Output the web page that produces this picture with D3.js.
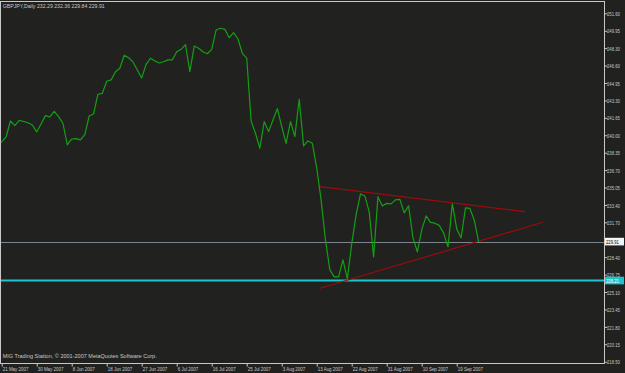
<!DOCTYPE html>
<html><head><meta charset="utf-8">
<script src="https://cdn.jsdelivr.net/npm/d3@7/dist/d3.min.js"></script>
<style>body{margin:0;background:#21221f;overflow:hidden}svg{display:block}</style>
</head><body>
<svg id="c" width="625" height="373"></svg>
<script>
// ---------- data ----------
const titleText = "GBPJPY,Daily  232.29 232.36 229.84 229.91";
const copyrightText = "MIG Trading Station, \u00a9 2001-2007 MetaQuotes Software Corp.";
const closes = [
  239.38, 239.85, 241.37, 240.93, 241.42, 241.32, 241.20, 240.99, 240.33, 241.09,
  241.88, 241.75, 242.29, 241.78, 241.13, 239.09, 239.66, 239.69, 239.57, 240.07,
  241.85, 242.04, 243.91, 244.00, 245.14, 245.27, 246.05, 246.38, 247.61, 247.38,
  246.98, 246.22, 245.46, 246.74, 247.33, 247.07, 246.88, 247.00, 247.17, 247.17,
  247.95, 248.18, 248.62, 246.05, 248.49, 248.28, 247.95, 247.76, 248.18, 250.01,
  250.18, 250.08, 249.28, 249.76, 249.16, 247.80, 247.35, 241.37, 240.20, 238.78,
  241.31, 240.36, 241.47, 242.54, 240.83, 239.25, 241.31, 239.88, 243.43, 239.00,
  239.47, 239.25, 236.91, 233.87, 230.07, 227.22, 226.56, 226.56, 228.17, 226.37,
  229.69, 232.45, 234.44, 234.25, 232.73, 228.46, 234.18, 233.30, 233.54, 233.49,
  233.87, 233.92, 232.64, 233.30, 230.26, 228.93, 231.02, 232.35, 231.73, 231.66,
  231.45, 230.74, 229.41, 233.49, 231.12, 230.26, 233.11, 233.06, 231.97, 229.91
];
const dateLabels = ["21 May 2007","30 May 2007","8 Jun 2007","18 Jun 2007","27 Jun 2007",
  "6 Jul 2007","16 Jul 2007","25 Jul 2007","3 Aug 2007","13 Aug 2007","22 Aug 2007",
  "31 Aug 2007","10 Sep 2007","19 Sep 2007"];
const barsPerDateLabel = 8;
const priceLabels = ["251.60","249.95","248.30","246.60","244.95","243.30","241.65",
  "240.00","238.35","236.70","235.05","233.40","231.70","230.05","228.40","226.75",
  "225.10","223.45","221.80","220.15","218.50"];
const priceMax = 251.60, priceMin = 218.50;
const lastPrice = 229.91;
const supportLevel = 226.21;
const upperTrend = [[72.75, 235.13], [119.6, 232.76]];
const lowerTrend = [[72.75, 225.48], [123.66, 231.75]];

// ---------- layout ----------
const svg = d3.select("#c");
const plotL = 0.5, plotR = 604.5, plotT = 1.5, plotB = 363.5;
const x = d3.scaleLinear().domain([0, closes.length - 1]).range([1.7, 478.6]);
const y = d3.scaleLinear().domain([priceMin, priceMax]).range([361.7, 13.3]);
const fg = "#c8c8c8";
const font = "Liberation Sans, Arial, sans-serif";

svg.append("rect").attr("width", 625).attr("height", 373).attr("fill", "#21221f");

svg.append("clipPath").attr("id", "clip").append("rect")
  .attr("x", plotL).attr("y", plotT).attr("width", plotR - plotL).attr("height", plotB - plotT);
const plot = svg.append("g").attr("clip-path", "url(#clip)");

// horizontal levels
plot.append("line").attr("x1", plotL).attr("x2", plotR)
  .attr("y1", Math.round(y(lastPrice)) + 0.5).attr("y2", Math.round(y(lastPrice)) + 0.5)
  .attr("stroke", "#7b8590").attr("stroke-width", 1);
plot.append("line").attr("x1", plotL).attr("x2", plotR)
  .attr("y1", y(supportLevel)).attr("y2", y(supportLevel))
  .attr("stroke", "#19c6cf").attr("stroke-width", 2);

// trendlines
[upperTrend, lowerTrend].forEach(t => {
  plot.append("line")
    .attr("x1", x(t[0][0])).attr("y1", y(t[0][1]))
    .attr("x2", x(t[1][0])).attr("y2", y(t[1][1]))
    .attr("stroke", "#9a0c0c").attr("stroke-width", 1.2);
});

// price line
plot.append("path").datum(closes)
  .attr("fill", "none").attr("stroke", "#12a012").attr("stroke-width", 1.2)
  .attr("stroke-linejoin", "round")
  .attr("d", d3.line().x((d, i) => x(i)).y(d => y(d)));
// continue a bit off the left edge
plot.append("line").attr("x1", x(0) - 4).attr("y1", y(closes[0]) + 2)
  .attr("x2", x(0)).attr("y2", y(closes[0]))
  .attr("stroke", "#12a012").attr("stroke-width", 1.2);

// frame
svg.append("rect").attr("x", plotL).attr("y", plotT)
  .attr("width", plotR - plotL).attr("height", plotB - plotT)
  .attr("fill", "none").attr("stroke", fg).attr("stroke-width", 1);

// right axis
const priceStep = (priceMax - priceMin) / (priceLabels.length - 1);
const priceVals = priceLabels.map((d, i) => priceMax - i * priceStep);
const yAxis = d3.axisRight(y).tickValues(priceVals)
  .tickFormat((d, i) => priceLabels[i]).tickSize(3).tickSizeOuter(0);
const ya = svg.append("g").attr("transform", `translate(${plotR},0)`).call(yAxis);
ya.select(".domain").remove();
ya.selectAll("line").attr("stroke", fg);
ya.selectAll("text").attr("fill", fg).attr("font-family", font).attr("font-size", 6.2)
  .attr("x", 0).attr("dy", "0.35em")
  .attr("transform", "translate(2.5,0) scale(0.68,1)");

// bottom axis
const dateIdx = dateLabels.map((d, i) => i * barsPerDateLabel);
const xAxis = d3.axisBottom(x).tickValues(dateIdx)
  .tickFormat((d, i) => dateLabels[i]).tickSize(3).tickSizeOuter(0);
const xa = svg.append("g").attr("transform", `translate(0,${plotB})`).call(xAxis);
xa.select(".domain").remove();
xa.selectAll("line").attr("stroke", fg);
xa.selectAll("text").attr("fill", fg).attr("font-family", font).attr("font-size", 6.2)
  .attr("text-anchor", "start").attr("y", 0).attr("dy", 0)
  .attr("transform", "translate(0.5,7.3) scale(0.72,1)");

// price tags
function tag(v, bg, color) {
  const yy = y(v);
  svg.append("rect").attr("x", 605).attr("y", yy - 3.8).attr("width", 19).attr("height", 7.6)
    .attr("fill", bg);
  svg.append("text").attr("transform", `translate(606,${yy + 2.2}) scale(0.68,1)`)
    .attr("fill", color).attr("font-family", font).attr("font-size", 6.2)
    .text(v.toFixed(2));
}
tag(lastPrice, "#f4f4f4", "#000");
tag(supportLevel, "#19c6cf", "#ffffff");

// texts
svg.append("text").attr("x", 2.7).attr("y", 8.3)
  .attr("fill", fg).attr("font-family", font).attr("font-size", 6.2)
  .attr("textLength", 102).attr("lengthAdjust", "spacingAndGlyphs").text(titleText);
svg.append("text").attr("x", 2.7).attr("y", 357.8)
  .attr("fill", fg).attr("font-family", font).attr("font-size", 6.2)
  .attr("textLength", 154).attr("lengthAdjust", "spacingAndGlyphs").text(copyrightText);
</script>
</body></html>
